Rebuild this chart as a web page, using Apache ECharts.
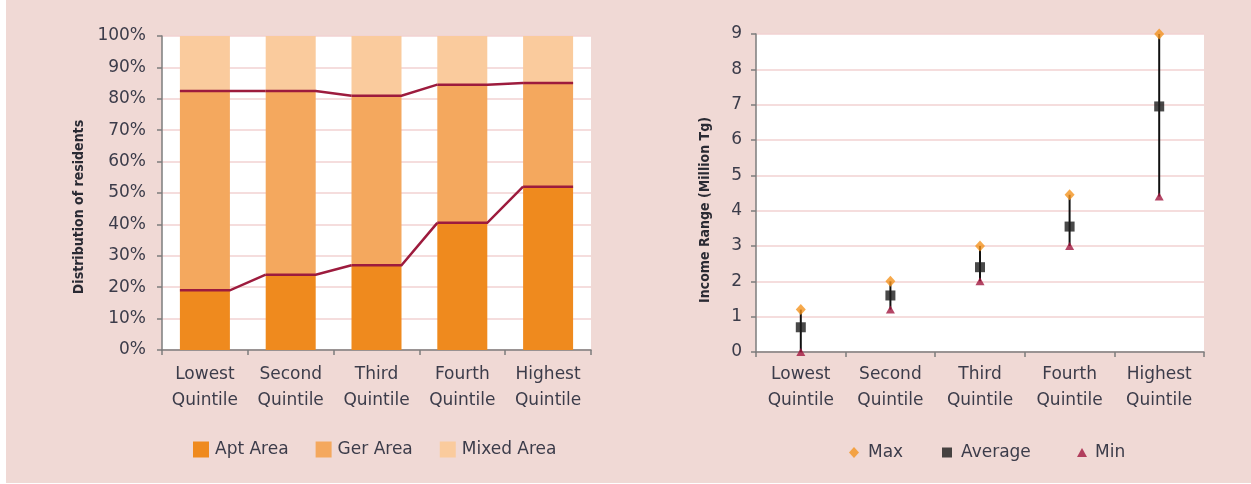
<!DOCTYPE html>
<html>
<head>
<meta charset="utf-8">
<script src="https://cdn.jsdelivr.net/npm/echarts@6/dist/echarts.min.js"></script>
<style>
html,body{margin:0;padding:0;background:#ffffff;}
#wrap{position:relative;width:1251px;height:484px;background:#ffffff;}
#bg{position:absolute;left:6px;top:0;width:1245px;height:483px;background:#f0d9d5;}
#chart{position:absolute;left:0;top:0;width:1251px;height:484px;}
</style>
</head>
<body>
<div id="wrap"><div id="bg"></div><div id="chart"></div></div>
<script>
// ---- data ----
const categories = ['Lowest\nQuintile', 'Second\nQuintile', 'Third\nQuintile', 'Fourth\nQuintile', 'Highest\nQuintile'];
const aptArea   = [19, 24, 27, 40.5, 52];
const gerArea   = [63.5, 58.5, 54, 44, 33];
const mixedArea = [17.5, 17.5, 19, 15.5, 15];
const incomeMax = [1.2, 2.0, 3.0, 4.45, 9.0];
const incomeAvg = [0.7, 1.6, 2.4, 3.55, 6.95];
const incomeMin = [0, 1.2, 2.0, 3.0, 4.4];
const pctTicks = { min: 0, max: 100, interval: 10 };
const incomeTicks = { min: 0, max: 9, interval: 1 };

// ---- derived ----
const aptTop = aptArea.slice();
const gerTop = aptArea.map((v, i) => v + gerArea[i]);

const FONT = '"DejaVu Sans", sans-serif';
const TXT = '#3c3c4a';
const AXIS = '#7c7c7c';
const GRIDC = '#f2d2d2';
const BARW = 50;

const chart = echarts.init(document.getElementById('chart'), null, { renderer: 'canvas' });

function stepLine(values, color) {
  return {
    type: 'custom', xAxisIndex: 0, yAxisIndex: 0, z: 5,
    data: values.map((v, i) => [i, v]),
    renderItem: function (params, api) {
      const i = api.value(0);
      const p = api.coord([i, api.value(1)]);
      const pts = [[p[0] - BARW / 2, p[1]], [p[0] + BARW / 2, p[1]]];
      if (i + 1 < values.length) {
        const q = api.coord([i + 1, values[i + 1]]);
        pts.push([q[0] - BARW / 2, q[1]]);
      }
      return { type: 'polyline', shape: { points: pts }, style: { stroke: color, lineWidth: 2.5, fill: null } };
    }
  };
}

function xAxisFor(gridIndex, margin) {
  return {
    gridIndex: gridIndex, type: 'category', data: categories, boundaryGap: true,
    axisLine: { show: true, lineStyle: { color: AXIS, width: 1.5 } },
    axisTick: { show: true, length: 5, lineStyle: { color: AXIS, width: 1.5 } },
    axisLabel: { color: TXT, fontFamily: FONT, fontSize: 17, lineHeight: 26, margin: margin, interval: 0 },
    splitLine: { show: false }
  };
}

const option = {
  backgroundColor: 'transparent',
  animation: false,
  grid: [
    { left: 162, top: 36, width: 429, height: 314, show: true, backgroundColor: '#ffffff', borderWidth: 0, containLabel: false },
    { left: 756, top: 34, width: 448, height: 318, show: true, backgroundColor: '#ffffff', borderWidth: 0, containLabel: false }
  ],
  xAxis: [ xAxisFor(0, 12), xAxisFor(1, 10) ],
  yAxis: [
    {
      gridIndex: 0, type: 'value', min: pctTicks.min, max: pctTicks.max, interval: pctTicks.interval,
      axisLine: { show: true, lineStyle: { color: AXIS, width: 1.5 } },
      axisTick: { show: true, length: 5, lineStyle: { color: AXIS, width: 1.5 } },
      axisLabel: { color: TXT, fontFamily: FONT, fontSize: 17, margin: 16, formatter: '{value}%' },
      splitLine: { show: true, lineStyle: { color: GRIDC, width: 1.5 } }
    },
    {
      gridIndex: 1, type: 'value', min: incomeTicks.min, max: incomeTicks.max, interval: incomeTicks.interval,
      axisLine: { show: true, lineStyle: { color: AXIS, width: 1.5 } },
      axisTick: { show: true, length: 5, lineStyle: { color: AXIS, width: 1.5 } },
      axisLabel: { color: TXT, fontFamily: FONT, fontSize: 17, margin: 14 },
      splitLine: { show: true, lineStyle: { color: GRIDC, width: 1.5 } }
    }
  ],
  legend: [
    {
      left: 193, top: 441, padding: 0, itemWidth: 16, itemHeight: 16, itemGap: 27, icon: 'rect',
      data: ['Apt Area', 'Ger Area', 'Mixed Area'],
      textStyle: { color: TXT, fontFamily: FONT, fontSize: 17, padding: [0, 0, 0, 1] }
    },
    {
      left: 849, top: 444, padding: 0, itemWidth: 10, itemHeight: 11, data: ['Max'],
      textStyle: { color: TXT, fontFamily: FONT, fontSize: 17, padding: [0, 0, 0, 4] }
    },
    {
      left: 942, top: 444, padding: 0, itemWidth: 10, itemHeight: 10, data: ['Average'],
      textStyle: { color: TXT, fontFamily: FONT, fontSize: 17, padding: [0, 0, 0, 4] }
    },
    {
      left: 1077, top: 444, padding: 0, itemWidth: 10, itemHeight: 9, data: ['Min'],
      textStyle: { color: TXT, fontFamily: FONT, fontSize: 17, padding: [0, 0, 0, 3] }
    }
  ],
  graphic: [
    {
      type: 'text', x: 79, y: 207, rotation: Math.PI / 2, z: 10,
      style: { text: 'Distribution of residents', fill: '#2a2a33', font: 'bold 14px "DejaVu Sans Condensed", "DejaVu Sans", sans-serif', textAlign: 'center', textVerticalAlign: 'middle' }
    },
    {
      type: 'text', x: 705, y: 210, rotation: Math.PI / 2, z: 10,
      style: { text: 'Income Range (Million Tg)', fill: '#2a2a33', font: 'bold 14px "DejaVu Sans Condensed", "DejaVu Sans", sans-serif', textAlign: 'center', textVerticalAlign: 'middle' }
    }
  ],
  series: [
    { name: 'Apt Area', type: 'bar', stack: 'res', xAxisIndex: 0, yAxisIndex: 0, barWidth: BARW, data: aptArea, itemStyle: { color: '#ef8a1e' } },
    { name: 'Ger Area', type: 'bar', stack: 'res', xAxisIndex: 0, yAxisIndex: 0, barWidth: BARW, data: gerArea, itemStyle: { color: '#f4a85e' } },
    { name: 'Mixed Area', type: 'bar', stack: 'res', xAxisIndex: 0, yAxisIndex: 0, barWidth: BARW, data: mixedArea, itemStyle: { color: '#facb9d' } },
    stepLine(aptTop, '#9d1b3d'),
    stepLine(gerTop, '#9d1b3d'),
    {
      type: 'custom', xAxisIndex: 1, yAxisIndex: 1, z: 2,
      data: incomeMin.map((v, i) => [i, v, incomeMax[i]]),
      renderItem: function (params, api) {
        const a = api.coord([api.value(0), api.value(1)]);
        const b = api.coord([api.value(0), api.value(2)]);
        return { type: 'line', shape: { x1: a[0], y1: a[1], x2: b[0], y2: b[1] }, style: { stroke: '#111111', lineWidth: 2 } };
      }
    },
    { name: 'Max', type: 'scatter', xAxisIndex: 1, yAxisIndex: 1, z: 4, symbol: 'diamond', symbolSize: [10, 11], data: incomeMax, itemStyle: { color: '#f4941f' } },
    { name: 'Average', type: 'scatter', xAxisIndex: 1, yAxisIndex: 1, z: 5, symbol: 'rect', symbolSize: 10, data: incomeAvg, itemStyle: { color: '#1c1c1c' } },
    { name: 'Min', type: 'scatter', xAxisIndex: 1, yAxisIndex: 1, z: 4, symbol: 'triangle', symbolSize: [9, 8], data: incomeMin, itemStyle: { color: '#a1173f' } }
  ]
};
chart.setOption(option);
</script>
</body>
</html>
